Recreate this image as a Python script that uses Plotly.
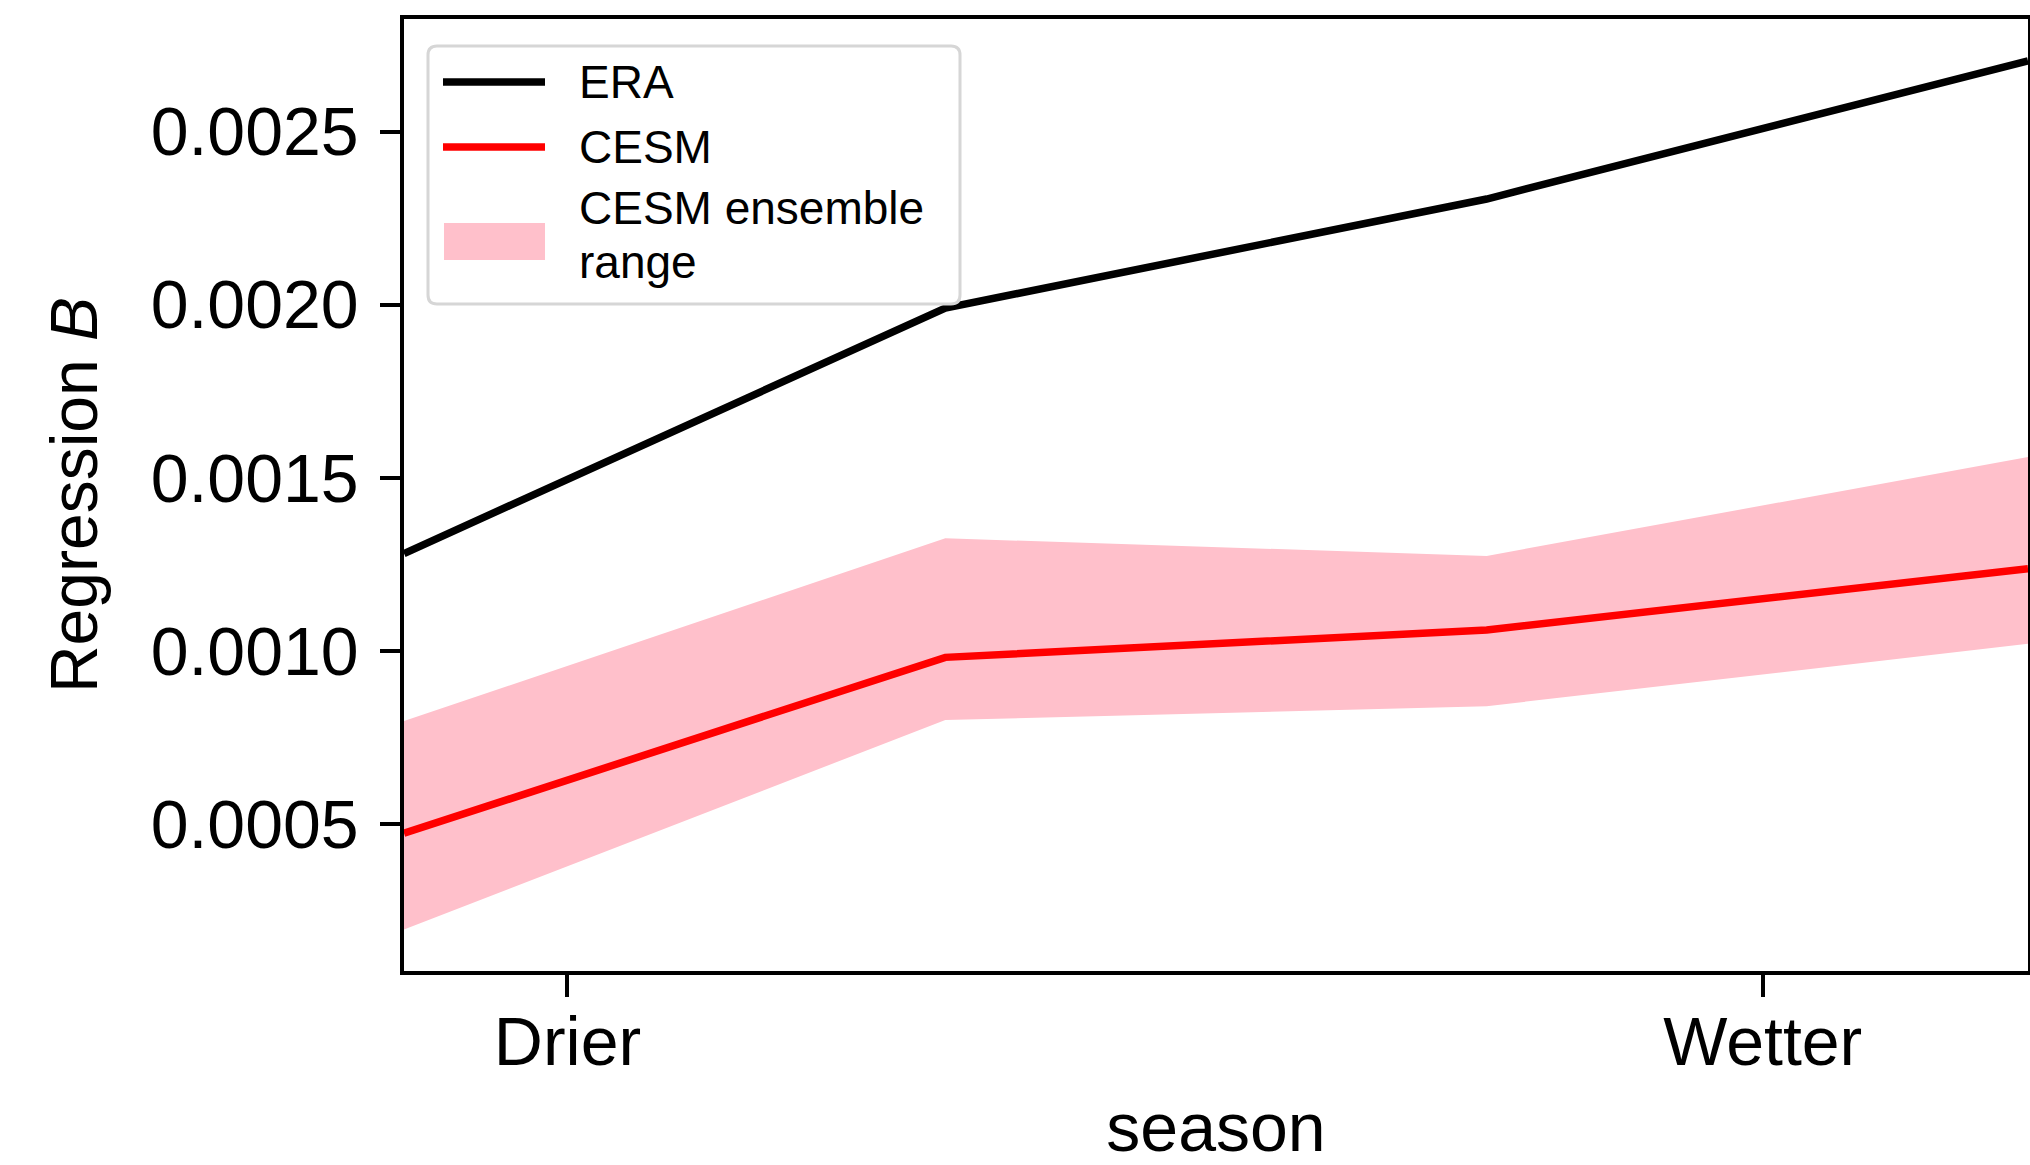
import plotly.graph_objects as go

# ---- data ----
season_pos = [0, 1, 2, 3]
era = [0.001281, 0.001990, 0.002305, 0.002704]
cesm = [0.000473, 0.000981, 0.001060, 0.001237]
cesm_upper = [0.000797, 0.001325, 0.001274, 0.001560]
cesm_lower = [0.000195, 0.000800, 0.000840, 0.001020]
tick_pos = [0.302, 2.51]
tick_labels = ["Drier", "Wetter"]
y_ticks = [0.0005, 0.0010, 0.0015, 0.0020, 0.0025]
legend_labels = ["ERA", "CESM", "CESM ensemble", "range"]

FONT = "Liberation Sans, Arial, Helvetica, sans-serif"
PINK = "#FFC0CB"
RED = "#FF0000"
LW = 7.5

W, H = 2030, 1165
ML, MR, MT, MB = 404, 2, 19, 194
PW, PH = W - ML - MR, H - MT - MB


def px(x):
    return (x - ML) / PW


def py(y):
    return (H - MB - y) / PH


fig = go.Figure()

band_x = season_pos + season_pos[::-1]
band_y = cesm_upper + cesm_lower[::-1]
fig.add_trace(go.Scatter(
    x=band_x, y=band_y, fill="toself", fillcolor=PINK,
    line=dict(width=0, color=PINK), mode="lines",
    name="CESM ensemble range", hoverinfo="skip"))
fig.add_trace(go.Scatter(
    x=season_pos, y=era, mode="lines", name="ERA",
    line=dict(color="black", width=LW)))
fig.add_trace(go.Scatter(
    x=season_pos, y=cesm, mode="lines", name="CESM",
    line=dict(color=RED, width=LW)))

# ---- legend (matplotlib style: rounded frame, wide swatches) ----
bx0, bx1, by0, by1, r = 428, 960, 46, 304, 9
path = (f"M{px(bx0 + r)},{py(by0)} L{px(bx1 - r)},{py(by0)} "
        f"Q{px(bx1)},{py(by0)} {px(bx1)},{py(by0 + r)} "
        f"L{px(bx1)},{py(by1 - r)} Q{px(bx1)},{py(by1)} {px(bx1 - r)},{py(by1)} "
        f"L{px(bx0 + r)},{py(by1)} Q{px(bx0)},{py(by1)} {px(bx0)},{py(by1 - r)} "
        f"L{px(bx0)},{py(by0 + r)} Q{px(bx0)},{py(by0)} {px(bx0 + r)},{py(by0)} Z")
shapes = [
    dict(type="path", path=path, xref="paper", yref="paper", layer="above",
         fillcolor="white", line=dict(color="#d6d6d6", width=3)),
    dict(type="line", xref="paper", yref="paper", layer="above",
         x0=px(443), x1=px(545), y0=py(82), y1=py(82),
         line=dict(color="black", width=LW)),
    dict(type="line", xref="paper", yref="paper", layer="above",
         x0=px(443), x1=px(545), y0=py(147), y1=py(147),
         line=dict(color=RED, width=LW)),
    dict(type="rect", xref="paper", yref="paper", layer="above",
         x0=px(444), x1=px(545), y0=py(260), y1=py(223),
         fillcolor=PINK, line=dict(width=0)),
]
annotations = []
for lab, yc in zip(legend_labels, [82, 147, 208, 262]):
    annotations.append(dict(
        text=lab, xref="paper", yref="paper", x=px(578), y=py(yc),
        xanchor="left", yanchor="middle", showarrow=False, borderpad=0,
        font=dict(size=46, family=FONT, color="black")))

fig.update_layout(
    width=W, height=H,
    margin=dict(l=ML, r=MR, t=MT, b=MB, autoexpand=False),
    paper_bgcolor="white", plot_bgcolor="white",
    font=dict(family=FONT, color="black", size=68),
    showlegend=False,
    shapes=shapes, annotations=annotations,
)

fig.update_xaxes(
    range=[0, 3], tickmode="array", tickvals=tick_pos, ticktext=tick_labels,
    ticks="outside", ticklen=22, tickwidth=3.5, tickcolor="black",
    showline=True, linecolor="black", linewidth=3.5, mirror=True,
    showgrid=False, zeroline=False, automargin=False,
    tickfont=dict(size=68), ticklabelstandoff=-13,
    title=dict(text="season", font=dict(size=68), standoff=41),
)
fig.update_yaxes(
    range=[0.000075, 0.002825], tickmode="array", tickvals=y_ticks,
    tickformat=".4f",
    ticks="outside", ticklen=20, tickwidth=3.5, tickcolor="black",
    showline=True, linecolor="black", linewidth=3.5, mirror=True,
    showgrid=False, zeroline=False, automargin=False,
    tickfont=dict(size=68), ticklabelstandoff=8,
    title=dict(text="Regression <i>B</i>\u00a0\u00a0\u00a0", font=dict(size=66), standoff=33),
)

fig.write_html("out.html", config={"displayModeBar": False},
               post_script="document.body.style.margin='0';document.body.style.overflow='hidden';")
